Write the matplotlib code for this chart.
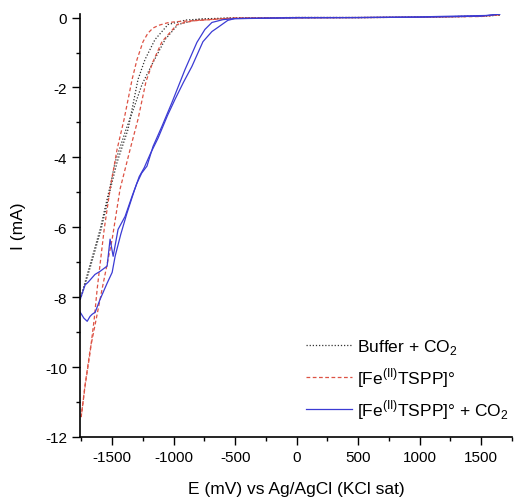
import matplotlib
matplotlib.use("Agg")
import matplotlib.pyplot as plt

plt.rcParams['font.family'] = ['Liberation Sans', 'DejaVu Sans']
plt.rcParams['axes.unicode_minus'] = False

# Buffer + CO2 (forward / return)
buf_e1 = [1650, 1500, 1000, 500, 0, -500, -800, -965, -1070, -1176, -1257, -1320, -1387, -1476, -1517, -1598, -1679, -1760]
buf_i1 = [0.07, 0.04, 0.01, 0.0, 0.0, -0.01, -0.05, -0.2, -0.63, -1.34, -1.91, -2.55, -3.2, -4.14, -4.83, -6.06, -7.06, -8.06]
buf_e2 = [-1760, -1744, -1671, -1590, -1509, -1460, -1371, -1290, -1233, -1152, -1046, -900, -700, -500, 0, 500, 1000, 1500, 1650]
buf_i2 = [-8.06, -7.91, -7.06, -6.06, -4.83, -4.14, -3.2, -1.77, -1.2, -0.63, -0.2, -0.07, -0.03, -0.01, 0.0, 0.0, 0.01, 0.04, 0.07]

# [Fe(II)TSPP]
fe_e1 = [1650, 1500, 1000, 500, 0, -500, -584, -851, -989, -1050, -1120, -1168, -1210, -1249, -1298, -1338, -1403, -1460, -1517, -1565, -1622, -1646, -1679, -1720, -1752]
fe_i1 = [0.08, 0.04, 0.01, 0.0, 0.0, -0.01, -0.03, -0.09, -0.12, -0.15, -0.22, -0.3, -0.45, -0.69, -1.2, -1.77, -2.91, -3.77, -4.91, -6.06, -7.77, -8.63, -9.57, -10.54, -11.43]
fe_e2 = [-1752, -1720, -1679, -1630, -1582, -1500, -1436, -1354, -1290, -1225, -1168, -1095, -973, -908, -827, -584, -500, 0, 500, 1000, 1500, 1650]
fe_i2 = [-11.43, -10.5, -9.5, -8.63, -7.77, -6.34, -4.91, -3.77, -2.91, -1.83, -1.26, -0.69, -0.2, -0.14, -0.09, -0.03, -0.02, -0.01, 0.0, 0.01, 0.03, 0.08]

# [Fe(II)TSPP] + CO2
co2_e1 = [1650, 1500, 1000, 500, 0, -503, -600, -689, -746, -811, -908, -1014, -1095, -1168, -1217, -1260, -1300, -1338, -1395, -1452, -1492, -1517, -1541, -1598, -1640, -1695, -1720, -1760]
co2_i1 = [0.1, 0.04, 0.01, 0.0, -0.01, -0.03, -0.06, -0.14, -0.34, -0.71, -1.49, -2.43, -3.11, -3.69, -4.25, -4.45, -4.75, -5.11, -5.69, -6.06, -6.83, -6.34, -7.11, -7.26, -7.35, -7.57, -7.65, -8.06]
co2_e2 = [-1760, -1730, -1703, -1680, -1663, -1638, -1598, -1541, -1500, -1476, -1430, -1380, -1320, -1280, -1240, -1190, -1127, -1050, -989, -920, -852, -762, -689, -640, -608, -560, -503, 0, 500, 1000, 1550, 1650]
co2_i2 = [-8.43, -8.6, -8.69, -8.55, -8.49, -8.43, -8.06, -7.6, -7.29, -6.83, -6.2, -5.6, -4.95, -4.55, -4.3, -3.9, -3.45, -2.8, -2.34, -1.85, -1.4, -0.69, -0.4, -0.28, -0.2, -0.08, -0.03, 0.0, 0.0, 0.02, 0.06, 0.1]

fig = plt.figure(figsize=(5.14, 5.02), dpi=100)
ax = fig.add_axes([0.156, 0.1275, 0.84, 0.8425])

ax.plot(buf_e1, buf_i1, color="#333333", lw=0.9, linestyle=(0, (1, 1.5)), label="Buffer + CO$_\\mathregular{2}$")
ax.plot(buf_e2, buf_i2, color="#333333", lw=0.9, linestyle=(0, (1, 1.5)))
ax.plot(fe_e1, fe_i1, color="#dd5244", lw=0.9, linestyle=(0, (3, 2)), label="[Fe$^{\\mathregular{(II)}}$TSPP]°")
ax.plot(fe_e2, fe_i2, color="#dd5244", lw=0.9, linestyle=(0, (3, 2)))
ax.plot(co2_e1, co2_i1, color="#3b3bd4", lw=0.9, label="[Fe$^{\\mathregular{(II)}}$TSPP]° + CO$_\\mathregular{2}$")
ax.plot(co2_e2, co2_i2, color="#3b3bd4", lw=0.9)

ax.set_xlim(-1760, 1745)
ax.set_ylim(-12, 0.1)
ax.set_xticks([-1500, -1000, -500, 0, 500, 1000, 1500])
ax.set_xticks(range(-1750, 1751, 250), minor=True)
ax.set_yticks([0, -2, -4, -6, -8, -10, -12])
ax.set_yticks(range(-12, 1), minor=True)
ax.tick_params(which="major", direction="out", length=6, width=1, labelsize=11)
ax.tick_params(which="minor", direction="out", length=3, width=1)

ax.spines["top"].set_visible(False)
ax.spines["right"].set_visible(False)
ax.spines["left"].set_linewidth(1.2)
ax.spines["bottom"].set_linewidth(1.2)

ax.set_xlabel("E (mV) vs Ag/AgCl (KCl sat)", fontsize=12.5, labelpad=12)
ax.set_ylabel("I (mA)", fontsize=12.5, labelpad=14)

ax.legend(loc="lower right", bbox_to_anchor=(1.0, 0.03), frameon=False, fontsize=12.5,
          handlelength=2.6, handletextpad=0.3, labelspacing=0.5, borderaxespad=0.0, borderpad=0.2)

fig.savefig("out.png", dpi=100)
